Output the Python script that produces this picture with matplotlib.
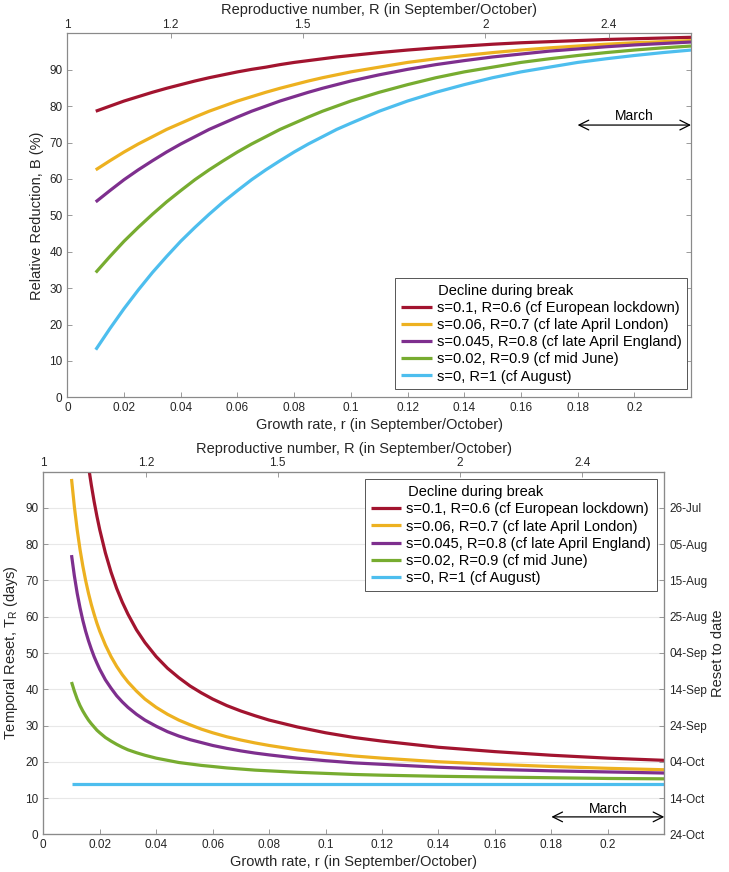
import numpy as np
import matplotlib
matplotlib.use('Agg')
import matplotlib.pyplot as plt

plt.rcParams['font.family'] = ['Liberation Sans', 'DejaVu Sans']

# ---------------- data ----------------
series_labels = [
    's=0.1, R=0.6 (cf European lockdown)',
    's=0.06, R=0.7 (cf late April London)',
    's=0.045, R=0.8 (cf late April England)',
    's=0.02, R=0.9 (cf mid June)',
    's=0, R=1 (cf August)',
]
legend_title = 'Decline during break'
colors = ['#A2142F', '#EDB120', '#7E2F8E', '#77AC30', '#4DBEEE']

# top panel: relative reduction B (%) vs growth rate r
r_top = [0.010, 0.015, 0.020, 0.025, 0.030, 0.035, 0.040, 0.045, 0.050, 0.055,
         0.060, 0.065, 0.070, 0.075, 0.080, 0.085, 0.090, 0.095, 0.100,
         0.11, 0.12, 0.13, 0.14, 0.15, 0.16, 0.17, 0.18, 0.19, 0.20, 0.21, 0.22]
B_red = [78.6, 80.0, 81.4, 82.6, 83.8, 84.9, 85.9, 86.9, 87.8, 88.6,
         89.4, 90.1, 90.7, 91.4, 92.0, 92.5, 93.0, 93.5, 93.9,
         94.7, 95.4, 96.0, 96.5, 97.0, 97.4, 97.7, 98.0, 98.3, 98.5, 98.7, 98.9]
B_yellow = [62.5, 65.0, 67.4, 69.6, 71.6, 73.6, 75.3, 77.0, 78.6, 80.0,
            81.4, 82.6, 83.8, 84.9, 85.9, 86.9, 87.8, 88.6, 89.4,
            90.7, 92.0, 93.0, 93.9, 94.7, 95.4, 96.0, 96.5, 97.0, 97.4, 97.7, 98.0]
B_purple = [53.7, 56.8, 59.8, 62.5, 65.0, 67.4, 69.6, 71.6, 73.6, 75.3,
            77.0, 78.6, 80.0, 81.4, 82.6, 83.8, 84.9, 85.9, 86.9,
            88.6, 90.1, 91.4, 92.5, 93.5, 94.3, 95.1, 95.7, 96.3, 96.8, 97.2, 97.6]
B_green = [34.3, 38.7, 42.9, 46.7, 50.3, 53.7, 56.8, 59.8, 62.5, 65.0,
           67.4, 69.6, 71.6, 73.6, 75.3, 77.0, 78.6, 80.0, 81.4,
           83.8, 85.9, 87.8, 89.4, 90.7, 92.0, 93.0, 93.9, 94.7, 95.4, 96.0, 96.5]
B_blue = [13.1, 18.9, 24.4, 29.5, 34.3, 38.7, 42.9, 46.7, 50.3, 53.7,
          56.8, 59.8, 62.5, 65.0, 67.4, 69.6, 71.6, 73.6, 75.3,
          78.6, 81.4, 83.8, 85.9, 87.8, 89.4, 90.7, 92.0, 93.0, 93.9, 94.7, 95.4]

# bottom panel: temporal reset T_R (days) vs growth rate r
r_bot = [0.010, 0.011, 0.012, 0.013, 0.014, 0.015, 0.016, 0.017, 0.018, 0.019,
         0.020, 0.022, 0.024, 0.026, 0.028, 0.030, 0.033, 0.036, 0.040,
         0.044, 0.048, 0.052, 0.056, 0.060, 0.065, 0.070, 0.075, 0.080,
         0.090, 0.100, 0.110, 0.120, 0.140, 0.160, 0.180, 0.200, 0.220]
T_red = [np.nan, np.nan, np.nan, np.nan, np.nan, np.nan, 101.5, 96.4, 91.8, 87.7,
         84.0, 77.6, 72.3, 67.8, 64.0, 60.7, 56.4, 52.9, 49.0,
         45.8, 43.2, 40.9, 39.0, 37.3, 35.5, 34.0, 32.7, 31.5,
         29.6, 28.0, 26.7, 25.7, 24.0, 22.8, 21.8, 21.0, 20.4]
T_yellow = [98.0, 90.4, 84.0, 78.6, 74.0, 70.0, 66.5, 63.4, 60.7, 58.2,
            56.0, 52.2, 49.0, 46.3, 44.0, 42.0, 39.5, 37.3, 35.0,
            33.1, 31.5, 30.2, 29.0, 28.0, 26.9, 26.0, 25.2, 24.5,
            23.3, 22.4, 21.6, 21.0, 20.0, 19.3, 18.7, 18.2, 17.8]
T_purple = [77.0, 71.3, 66.5, 62.5, 59.0, 56.0, 53.4, 51.1, 49.0, 47.2,
            45.5, 42.6, 40.3, 38.2, 36.5, 35.0, 33.1, 31.5, 29.8,
            28.3, 27.1, 26.1, 25.3, 24.5, 23.7, 23.0, 22.4, 21.9,
            21.0, 20.3, 19.7, 19.3, 18.5, 17.9, 17.5, 17.2, 16.9]
T_green = [42.0, 39.5, 37.3, 35.5, 34.0, 32.7, 31.5, 30.5, 29.6, 28.7,
           28.0, 26.7, 25.7, 24.8, 24.0, 23.3, 22.5, 21.8, 21.0,
           20.4, 19.8, 19.4, 19.0, 18.7, 18.3, 18.0, 17.7, 17.5,
           17.1, 16.8, 16.5, 16.3, 16.0, 15.8, 15.6, 15.4, 15.3]
T_blue = [14.0] * 37

# axes tick labels
r_ticks = [0, 0.02, 0.04, 0.06, 0.08, 0.1, 0.12, 0.14, 0.16, 0.18, 0.2]
r_ticklabels = ['0', '0.02', '0.04', '0.06', '0.08', '0.1', '0.12', '0.14', '0.16', '0.18', '0.2']
R_labels = ['1', '1.2', '1.5', '2', '2.4']
R_at_r = [0.0, 0.0364, 0.0830, 0.1475, 0.1910]
y_ticks = [0, 10, 20, 30, 40, 50, 60, 70, 80, 90]
date_labels = ['24-Oct', '14-Oct', '04-Oct', '24-Sep', '14-Sep',
               '04-Sep', '25-Aug', '15-Aug', '05-Aug', '26-Jul']
tick_mark_colors = ['#9a6fb0', '#a8d080', '#6cc8f0', '#d47a9a', '#6cb8e8', '#e0603a',
                    '#f0c060', '#b080c0', '#a8d080', '#80d0f0', '#d06070']

# ---------------- style ----------------
W, H = 729, 872
spine_c = '#8a8a8a'
text_c = '#262626'
lw = 2.3
tick_fs = 8.5
label_fs = 10.5
leg_fs = 10.5

fig = plt.figure(figsize=(W / 100, H / 100), dpi=100)


def style_axis(ax):
    for s in ax.spines.values():
        s.set_color(spine_c)
        s.set_linewidth(0.8)
    ax.tick_params(which='both', direction='in', length=3.5, width=0.6,
                   colors=spine_c, labelcolor=text_c, labelsize=tick_fs)


def add_top_R_axis(ax):
    axt = ax.twiny()
    axt.set_xlim(ax.get_xlim())
    axt.set_xticks(R_at_r)
    axt.set_xticklabels(R_labels)
    style_axis(axt)
    axt.tick_params(axis='x', pad=2)
    axt.set_xlabel('Reproductive number, R (in September/October)',
                   fontsize=label_fs, color=text_c, labelpad=3)
    return axt


def add_arrow(ax, y_arrow, y_text):
    ax.annotate('', xy=(0.18, y_arrow), xytext=(0.22, y_arrow),
                arrowprops=dict(arrowstyle='<->,head_length=0.7,head_width=0.35',
                                color='black', lw=0.9, shrinkA=0, shrinkB=0),
                annotation_clip=False)
    ax.text(0.2, y_text, 'March', ha='center', va='center', fontsize=10, color='black')


def make_legend(ax, handles, labels, loc, anchor):
    leg = ax.legend(handles, labels, title=' ' * 9 + legend_title, loc=loc,
                    bbox_to_anchor=anchor, alignment='left',
                    fontsize=leg_fs, title_fontsize=leg_fs, frameon=True, fancybox=False,
                    framealpha=1, edgecolor='#555555', handlelength=2.1,
                    handletextpad=0.35, labelspacing=0.22, borderpad=0.4,
                    borderaxespad=0)
    leg.get_frame().set_linewidth(0.7)
    return leg


# ---------------- top panel ----------------
ax1 = fig.add_axes([67.4 / W, 1 - 397.4 / H, 623.6 / W, 364.1 / H])
for vals, c, lab in zip([B_red, B_yellow, B_purple, B_green, B_blue], colors, series_labels):
    ax1.plot(r_top, vals, color=c, lw=lw, label=lab, solid_capstyle='butt',
             solid_joinstyle='round')
ax1.set_xlim(0, 0.22)
ax1.set_ylim(0, 100)
ax1.set_xticks(r_ticks)
ax1.set_xticklabels(r_ticklabels)
ax1.set_yticks(y_ticks)
style_axis(ax1)
ax1.tick_params(axis='y', right=True)
for t, c in zip(ax1.xaxis.get_major_ticks(), tick_mark_colors):
    t.tick1line.set_color(c)
ax1.set_xlabel('Growth rate, r (in September/October)', fontsize=label_fs,
               color=text_c, labelpad=3)
ax1.set_ylabel('Relative Reduction, B (%)', fontsize=label_fs, color=text_c, labelpad=4)
add_arrow(ax1, 74.8, 77.2)
add_top_R_axis(ax1)
h1, l1 = ax1.get_legend_handles_labels()
make_legend(ax1, h1, l1, 'lower right', (0.994, 0.022))

# ---------------- bottom panel ----------------
ax2 = fig.add_axes([43.3 / W, 1 - 834.3 / H, 621.0 / W, 362.6 / H])
for vals, c, lab in zip([T_red, T_yellow, T_purple, T_green, T_blue], colors, series_labels):
    ax2.plot(r_bot, vals, color=c, lw=lw, label=lab, solid_capstyle='butt',
             solid_joinstyle='round')
ax2.set_xlim(0, 0.22)
ax2.set_ylim(0, 100)
ax2.set_xticks(r_ticks)
ax2.set_xticklabels(r_ticklabels)
ax2.set_yticks(y_ticks)
ax2.yaxis.grid(True, color='#e8e8e8', lw=0.8)
ax2.set_axisbelow(True)
style_axis(ax2)
ax2.set_xlabel('Growth rate, r (in September/October)', fontsize=label_fs,
               color=text_c, labelpad=3)
ax2.set_ylabel('Temporal Reset, T$_\\mathregular{R}$ (days)', fontsize=label_fs,
               color=text_c, labelpad=4)
add_arrow(ax2, 4.8, 7.0)
add_top_R_axis(ax2)
ax2r = ax2.twinx()
ax2r.set_ylim(0, 100)
ax2r.set_yticks(y_ticks)
ax2r.set_yticklabels(date_labels)
style_axis(ax2r)
ax2r.set_ylabel('Reset to date', fontsize=label_fs, color=text_c, labelpad=3)
h2, l2 = ax2.get_legend_handles_labels()
make_legend(ax2r, h2, l2, 'upper right', (0.988, 0.979))

fig.savefig('out.png', dpi=100)
